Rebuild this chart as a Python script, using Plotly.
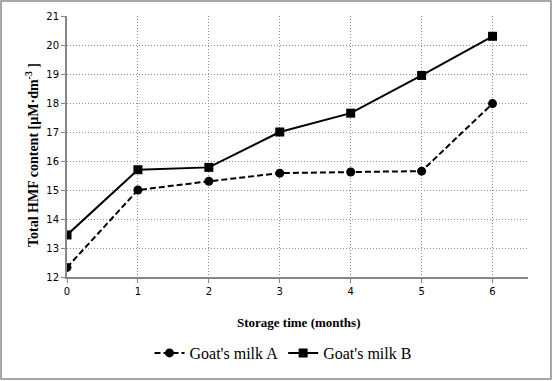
import plotly.graph_objects as go

months = [0, 1, 2, 3, 4, 5, 6]
milk_a = [12.33, 15.0, 15.3, 15.58, 15.62, 15.65, 17.98]
milk_b = [13.45, 15.7, 15.78, 17.0, 17.65, 18.95, 20.3]
y_ticks = [12, 13, 14, 15, 16, 17, 18, 19, 20, 21]

W, H = 553, 381
L, R, T, B = 67, 528, 16, 277

fig = go.Figure()
fig.add_trace(go.Scatter(
    x=months, y=milk_a, name="Goat's milk A", mode="lines+markers",
    line=dict(color="black", width=2, dash="6px,3px"),
    marker=dict(symbol="circle", size=9, color="black"),
))
fig.add_trace(go.Scatter(
    x=months, y=milk_b, name="Goat's milk B", mode="lines+markers",
    line=dict(color="black", width=2),
    marker=dict(symbol="square", size=9, color="black"),
))

pw, ph = R - L, B - T
def px(x):
    return (x - L) / pw
def py(y):
    return (B - y) / ph

fig.update_layout(
    width=W, height=H,
    margin=dict(l=L, r=W - R, t=T, b=H - B, autoexpand=False),
    plot_bgcolor="white", paper_bgcolor="white",
    showlegend=True,
    legend=dict(orientation="h", x=px(283), xanchor="center", y=py(353), yanchor="middle",
                font=dict(family="Liberation Serif", size=16, color="black"),
                itemwidth=30, bgcolor="rgba(0,0,0,0)"),
    xaxis=dict(range=[0, 6.5], tickvals=months, ticktext=[str(m) for m in months],
               showgrid=True, gridcolor="#909090", griddash="1px,2px", gridwidth=1,
               showline=True, linecolor="#868686", linewidth=2,
               ticks="outside", ticklen=4, tickcolor="#868686",
               tickfont=dict(family="DejaVu Sans", size=10, color="black"),
               zeroline=False, automargin=False),
    yaxis=dict(range=[12, 21], tickvals=y_ticks,
               showgrid=True, gridcolor="#909090", griddash="1px,2px", gridwidth=1,
               showline=True, linecolor="#868686", linewidth=2,
               ticks="outside", ticklen=4, tickcolor="#868686",
               tickfont=dict(family="DejaVu Sans", size=10, color="black"),
               zeroline=False, automargin=False),
    annotations=[
        dict(text="<b>Storage time (months)</b>", xref="paper", yref="paper",
             x=px(298), y=py(322), xanchor="center", yanchor="middle", showarrow=False,
             font=dict(family="Liberation Serif", size=13, color="black")),
        dict(text="<b>Total HMF content [µM·dm<sup>-3</sup> ]</b>", xref="paper", yref="paper",
             x=px(32), y=py(155), xanchor="center", yanchor="middle", showarrow=False,
             textangle=-90, font=dict(family="Liberation Serif", size=14, color="black")),
    ],
    shapes=[
        dict(type="rect", xref="paper", yref="paper",
             x0=px(1), x1=px(551), y0=py(379), y1=py(1),
             line=dict(color="#8a8a8a", width=1.5), layer="below"),
    ],
)

fig.write_html("out.html", config={"displayModeBar": False},
               post_script="document.body.style.margin='0';")
